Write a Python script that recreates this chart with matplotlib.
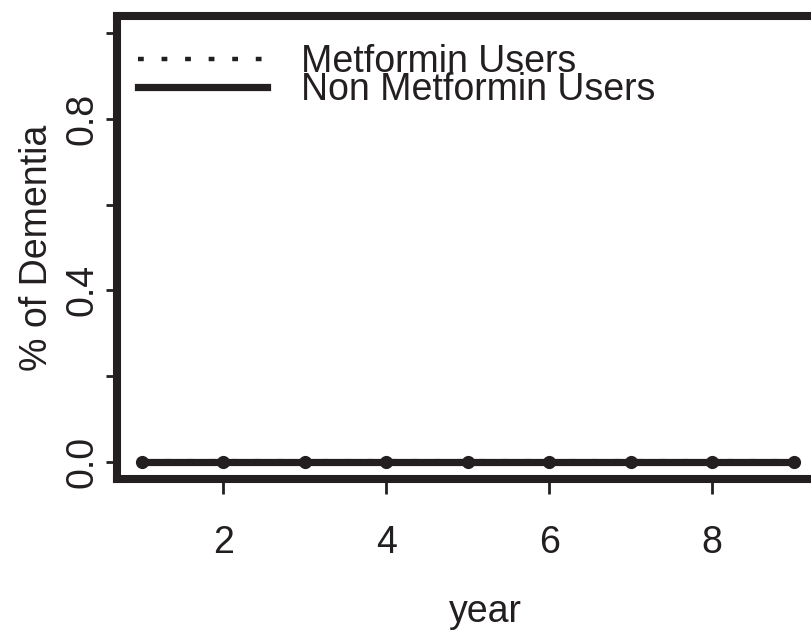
import matplotlib
matplotlib.use("Agg")
import matplotlib.pyplot as plt

# data
years = [1, 2, 3, 4, 5, 6, 7, 8, 9]
metformin_users = [0, 0, 0, 0, 0, 0, 0, 0, 0]
non_metformin_users = [0, 0, 0, 0, 0, 0, 0, 0, 0]
xticks = [2, 4, 6, 8]
yticks = [0.0, 0.2, 0.4, 0.6, 0.8, 1.0]
ytick_labels = ["0.0", "", "0.4", "", "0.8", ""]
series_labels = ["Metformin Users", "Non Metformin Users"]

INK = "#231f20"
plt.rcParams["font.family"] = ["Liberation Sans", "DejaVu Sans"]
FS = 27

fig = plt.figure(figsize=(8.11, 6.32), dpi=100)
ax = fig.add_axes([117 / 811, 1 - 479 / 632, (854 - 117) / 811, (479 - 16) / 632])

ax.plot(years, metformin_users, color="#9a9899", lw=4.5, linestyle=(0, (1.0, 2.6)),
        zorder=2)
ax.plot([], [], color=INK, lw=3.2, linestyle=(0, (1.3, 4.0)), label=series_labels[0])
ax.plot(years, non_metformin_users, color=INK, lw=5.2, linestyle="-",
        label=series_labels[1], zorder=3)
ax.plot(years, non_metformin_users, color=INK, linestyle="none",
        marker="o", markersize=9.5, markeredgewidth=0, zorder=4)

ax.set_xlim(0.693, 9.74)
ax.set_ylim(-0.04, 1.04)

ax.set_xticks(xticks)
ax.set_xticklabels([str(t) for t in xticks], fontsize=FS, color=INK)
ax.set_yticks(yticks)
ax.set_yticklabels(ytick_labels, fontsize=FS, color=INK, rotation=90, va="center")

ax.tick_params(axis="x", length=11, width=2, color=INK, pad=22)
ax.tick_params(axis="y", length=8, width=2, color=INK, pad=4)

for s in ax.spines.values():
    s.set_linewidth(5.8)
    s.set_color(INK)
    s.set_capstyle("projecting")

ax.set_xlabel("year", fontsize=FS, color=INK, labelpad=24)
ax.set_ylabel("% of Dementia", fontsize=FS, color=INK, labelpad=7)

leg = ax.legend(loc="upper left", bbox_to_anchor=(0.028, 0.94), frameon=False,
                fontsize=FS, handlelength=3.45, handletextpad=0.9,
                labelspacing=-0.2, borderpad=0, borderaxespad=0)
for t in leg.get_texts():
    t.set_color(INK)

fig.savefig("out.png", dpi=100)
